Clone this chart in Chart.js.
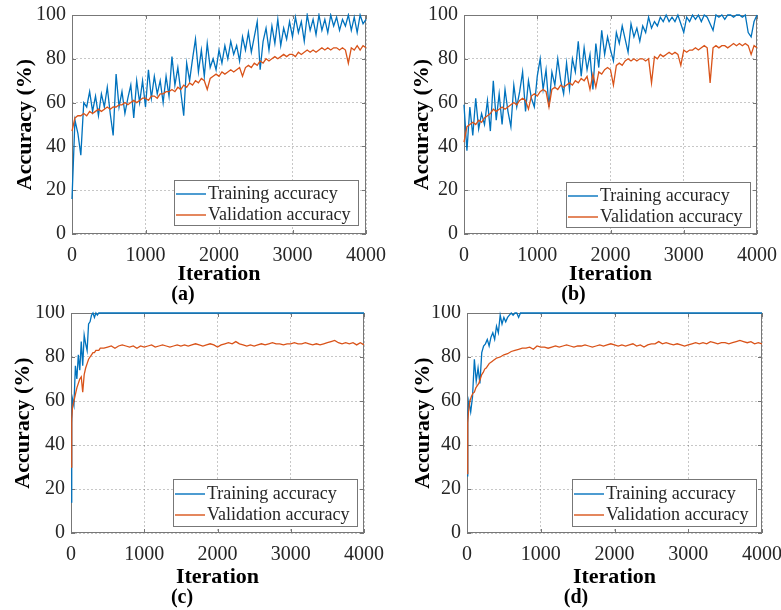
<!DOCTYPE html>
<html>
<head>
<meta charset="utf-8">
<script src="https://cdn.jsdelivr.net/npm/chart.js@4.4.1/dist/chart.umd.min.js"></script>
<style>
  body { margin: 0; background: #fff; }
  #wrap { position: relative; width: 781px; height: 610px; }
  canvas { position: absolute; }
</style>
</head>
<body>
<div id="wrap">
  <canvas id="chartA" width="390" height="305" style="left:0;top:0"></canvas>
  <canvas id="chartB" width="391" height="305" style="left:390px;top:0"></canvas>
  <canvas id="chartC" width="390" height="305" style="left:0;top:305px"></canvas>
  <canvas id="chartD" width="391" height="305" style="left:390px;top:305px"></canvas>
</div>
<script>
// iterations sampled every 40 for panels (a) and (b)
var abIters = [0,40,80,120,160,200,240,280,320,360,
  400,440,480,520,560,600,640,680,720,760,
  800,840,880,920,960,1000,1040,1080,1120,1160,
  1200,1240,1280,1320,1360,1400,1440,1480,1520,1560,
  1600,1640,1680,1720,1760,1800,1840,1880,1920,1960,
  2000,2040,2080,2120,2160,2200,2240,2280,2320,2360,
  2400,2440,2480,2520,2560,2600,2640,2680,2720,2760,
  2800,2840,2880,2920,2960,3000,3040,3080,3120,3160,
  3200,3240,3280,3320,3360,3400,3440,3480,3520,3560,
  3600,3640,3680,3720,3760,3800,3840,3880,3920,3960,
  4000];

var aTrain = [16,52,46,36,60,58,65,56,63,54,
  64,58,67,55,45,73,58,65,55,62,
  68,53,70,60,70,58,75,62,72,64,
  70,60,72,63,81,68,76,65,54,78,
  70,80,89,74,84,72,87,76,80,75,
  84,78,86,80,88,82,86,79,90,84,
  92,83,90,97,75,88,94,84,95,87,
  98,86,94,89,97,90,99,92,97,88,
  100,93,98,91,100,93,98,92,100,95,
  99,93,98,95,100,93,99,92,100,96,
  98];
var aVal = [47,53,54,54,55,54,56,55,56,57,
  56,57,58,57,58,58,59,59,60,59,
  60,61,60,61,62,62,61,63,63,62,
  64,64,65,65,66,65,67,66,68,67,
  69,68,70,69,71,70,66,71,72,73,
  72,74,73,74,75,74,75,76,72,76,
  77,76,78,77,79,78,80,79,80,81,
  80,81,82,81,82,82,81,83,82,83,
  84,83,84,83,84,85,84,85,84,85,
  85,84,85,84,78,85,84,86,84,86,
  85];

var bTrain = [59,38,58,45,62,48,55,50,61,47,
  70,52,64,50,66,56,49,68,58,65,
  74,56,70,62,58,72,80,66,75,58,
  74,68,80,70,64,78,66,80,74,88,
  72,85,75,82,66,87,76,93,82,90,
  84,79,92,87,95,89,83,96,90,94,
  88,95,92,99,94,97,95,99,97,100,
  97,99,97,100,96,92,99,97,100,98,
  100,97,100,99,96,93,100,99,100,98,
  100,100,99,100,100,99,100,92,90,97,
  100];
var bVal = [42,49,50,51,50,52,51,53,54,55,
  57,56,57,58,57,58,59,60,59,61,
  62,61,57,63,64,63,65,66,65,58,
  66,67,66,68,67,68,69,68,70,69,
  71,70,72,66,73,67,74,73,75,76,
  75,68,77,78,77,79,80,79,80,79,
  80,80,79,80,69,81,80,82,81,82,
  83,82,83,82,77,84,83,84,84,85,
  84,85,86,85,69,85,86,85,86,86,
  85,86,87,86,87,86,87,86,82,86,
  85];

// panel (c): training reaches 100 and stays there
var cTrainIters = [0,10,20,40,60,80,100,120,140,160,180,200,220,240,260,280,300,320,340,360,380,400,4000];
var cTrain = [14,50,61,58,76,70,81,74,87,76,90,86,83,95,96,99,100,98,100,99,100,100,100];

// panel (d)
var dTrainIters = [0,10,25,50,75,100,125,150,175,200,225,250,275,300,325,350,375,400,
  425,450,475,500,525,550,575,600,625,650,675,700,725,4000];
var dTrain = [26,54,60,55,62,79,69,75,68,82,85,86,88,85,89,91,88,94,
  91,99,95,98,96,98,99,100,99,100,100,98,100,100];

// validation iterations for (c) and (d)
var cdValIters = [0,10,20,40,60,80,100,120,140,160,180,200,220,240,260,280,300,320,340,360,380,400,
  450,500,550,600,650,700,750,800,850,900,950,1000,
  1050,1100,1150,1200,1250,1300,1350,1400,1450,1500,
  1550,1600,1650,1700,1750,1800,1850,1900,1950,2000,
  2050,2100,2150,2200,2250,2300,2350,2400,2450,2500,
  2550,2600,2650,2700,2750,2800,2850,2900,2950,3000,
  3050,3100,3150,3200,3250,3300,3350,3400,3450,3500,
  3550,3600,3650,3700,3750,3800,3850,3900,3950,4000];
var cVal = [30,52,57,60,63,66,68,70,71,64,72,75,77,79,80,81,82,82,83,83,83,84,
  84,84.5,85,84,85,85.5,85,84.5,85,84,85,84.5,
  85,85.5,84.5,85,85.5,85,84.5,85,85.5,85,
  85.5,85,85.5,86,85.5,85,85.5,86,85.5,84.5,
  85.5,86,86.5,86,87,86,85.5,85,85.5,85,
  85.5,86,85.5,86,86.5,86,86,85.5,86,86,
  86.5,86,86,86.5,86,85.5,86,85.5,86,86.5,
  87,87.5,86.5,86,86.5,86,86.5,85.5,86.5,85.5];
var dVal = [27,50,55,60,62,63.5,64,66,67,68,70,72,73,74.5,75,76,77,77.5,78,78.5,79,79.5,
  80,81,81.5,82.5,83,83.5,84,84,84.5,83.5,85,84.5,
  84.5,84,84.5,85,84.5,85,85.5,85,84.5,85,
  85,85.5,85,84.5,85,85.5,85,85.5,86,85.5,
  85,85.5,85,85.5,86,85,85.5,84.5,85.5,86,
  86,87,86,86.5,86,85.5,86,85.5,85,85.5,
  86,86.5,86,86.5,86,87,86.5,86,86.5,86.5,
  86,86.5,87,87.5,87,86.5,87,86,86.5,86];

var trainLabel = 'Training accuracy';
var valLabel = 'Validation accuracy';
var trainColor = '#0072BD';
var valColor = '#D95319';
var serif = "'Liberation Serif', 'Times New Roman', serif";

Chart.defaults.font.family = serif;
Chart.defaults.color = '#262626';

function pts(xs, ys) {
  return xs.map(function (x, i) { return { x: x, y: ys[i] }; });
}

// MATLAB style box with inner tick marks (under the lines) and legend (on top)
var matlabBox = {
  id: 'matlabBox',
  beforeDatasetsDraw: function (chart) {
    var ctx = chart.ctx, a = chart.chartArea;
    var sx = chart.scales.x, sy = chart.scales.y;
    ctx.save();
    ctx.strokeStyle = '#777';
    ctx.lineWidth = 1;
    ctx.beginPath();
    sy.ticks.forEach(function (t) {
      var y = Math.round(sy.getPixelForValue(t.value)) + 0.5;
      ctx.moveTo(a.left, y); ctx.lineTo(a.left + 4, y);
      ctx.moveTo(a.right, y); ctx.lineTo(a.right - 4, y);
    });
    sx.ticks.forEach(function (t) {
      var x = Math.round(sx.getPixelForValue(t.value)) + 0.5;
      ctx.moveTo(x, a.bottom); ctx.lineTo(x, a.bottom - 4);
      ctx.moveTo(x, a.top); ctx.lineTo(x, a.top + 4);
    });
    ctx.stroke();
    ctx.strokeRect(Math.round(a.left) + 0.5, Math.round(a.top) + 0.5,
      Math.round(a.right - a.left) - 1, Math.round(a.bottom - a.top) - 1);
    ctx.restore();
  },
  afterDraw: function (chart, args, opts) {
    var ctx = chart.ctx, a = chart.chartArea;
    ctx.save();
    ctx.font = '18px ' + serif;
    var w = 0;
    chart.data.datasets.forEach(function (d) {
      w = Math.max(w, ctx.measureText(d.label).width);
    });
    var bw = Math.round(34 + w + 8), bh = opts.boxHeight;
    var bx = Math.round(a.right - opts.marginRight - bw);
    var by = Math.round(a.bottom - opts.marginBottom - bh);
    ctx.fillStyle = '#fff';
    ctx.fillRect(bx, by, bw, bh);
    ctx.strokeStyle = '#777';
    ctx.lineWidth = 1;
    ctx.strokeRect(bx + 0.5, by + 0.5, bw, bh);
    ctx.textBaseline = 'middle';
    chart.data.datasets.forEach(function (d, i) {
      var yy = by + opts.rowTop + i * 21;
      ctx.strokeStyle = d.borderColor;
      ctx.lineWidth = 1.4;
      ctx.beginPath();
      ctx.moveTo(bx + 2, yy); ctx.lineTo(bx + 32, yy);
      ctx.stroke();
      ctx.fillStyle = '#262626';
      ctx.fillText(d.label, bx + 34, yy);
    });
    ctx.restore();
  }
};

function plain(v) { return String(v); }

function makeChart(id, p) {
  var ctx = document.getElementById(id).getContext('2d');
  return new Chart(ctx, {
    type: 'line',
    data: {
      datasets: [
        { label: trainLabel, data: pts(p.trainX, p.train), borderColor: trainColor,
          borderWidth: 1.3, pointRadius: 0, tension: 0, order: 1, clip: 2 },
        { label: valLabel, data: pts(p.valX, p.val), borderColor: valColor,
          borderWidth: 1.3, pointRadius: 0, tension: 0, order: 0, clip: 2 }
      ]
    },
    options: {
      responsive: false,
      animation: false,
      layout: { autoPadding: false, padding: p.pad },
      scales: {
        x: {
          type: 'linear', min: 0, max: 4000,
          ticks: { stepSize: 1000, padding: 10, color: '#262626', callback: plain,
            font: { family: serif, size: 20 } },
          grid: { color: 'rgba(0,0,0,0.22)', drawTicks: false },
          border: { display: false, dash: [2, 2] },
          title: { display: true, text: 'Iteration', padding: { top: 0, bottom: 0 },
            font: { family: serif, size: 22, weight: 'bold', lineHeight: 1 }, color: '#000' },
          afterFit: function (s) { s.height = p.xH; s.paddingLeft = 0; s.paddingRight = 0; }
        },
        y: {
          min: 0, max: 100,
          ticks: { stepSize: 20, padding: 6, color: '#262626', callback: plain,
            font: { family: serif, size: 20 } },
          grid: { color: 'rgba(0,0,0,0.22)', drawTicks: false },
          border: { display: false, dash: [2, 2] },
          title: { display: true, text: 'Accuracy (%)', padding: { top: p.yTitlePad, bottom: 0 },
            font: { family: serif, size: 22, weight: 'bold', lineHeight: 1 }, color: '#000' },
          afterFit: function (s) { s.width = p.yW; s.paddingTop = 0; s.paddingBottom = 0; }
        }
      },
      plugins: {
        legend: { display: false },
        tooltip: { enabled: false },
        title: { display: true, position: 'bottom', text: p.caption, color: '#000',
          padding: 0, font: { family: serif, size: 20, weight: 'bold', lineHeight: 1 } },
        matlabBox: p.legend
      }
    },
    plugins: [matlabBox]
  });
}

makeChart('chartA', {
  trainX: abIters, train: aTrain, valX: abIters, val: aVal,
  pad: { top: 15, right: 24, bottom: 0, left: 0 }, xH: 51, yW: 72, yTitlePad: 14,
  caption: '(a)', legend: { marginRight: 8, marginBottom: 9, boxHeight: 45, rowTop: 14 }
});
makeChart('chartB', {
  trainX: abIters, train: bTrain, valX: abIters, val: bVal,
  pad: { top: 15, right: 24, bottom: 0, left: 0 }, xH: 51, yW: 74, yTitlePad: 21,
  caption: '(b)', legend: { marginRight: 7, marginBottom: 7, boxHeight: 45, rowTop: 14 }
});
makeChart('chartC', {
  trainX: cTrainIters, train: cTrain, valX: cdValIters, val: cVal,
  pad: { top: 8, right: 26, bottom: 2, left: 0 }, xH: 55, yW: 71, yTitlePad: 12,
  caption: '(c)', legend: { marginRight: 7, marginBottom: 7, boxHeight: 47, rowTop: 15 }
});
makeChart('chartD', {
  trainX: dTrainIters, train: dTrain, valX: cdValIters, val: dVal,
  pad: { top: 8, right: 19, bottom: 2, left: 0 }, xH: 55, yW: 77, yTitlePad: 22,
  caption: '(d)', legend: { marginRight: 6, marginBottom: 7, boxHeight: 47, rowTop: 15 }
});
</script>
</body>
</html>
